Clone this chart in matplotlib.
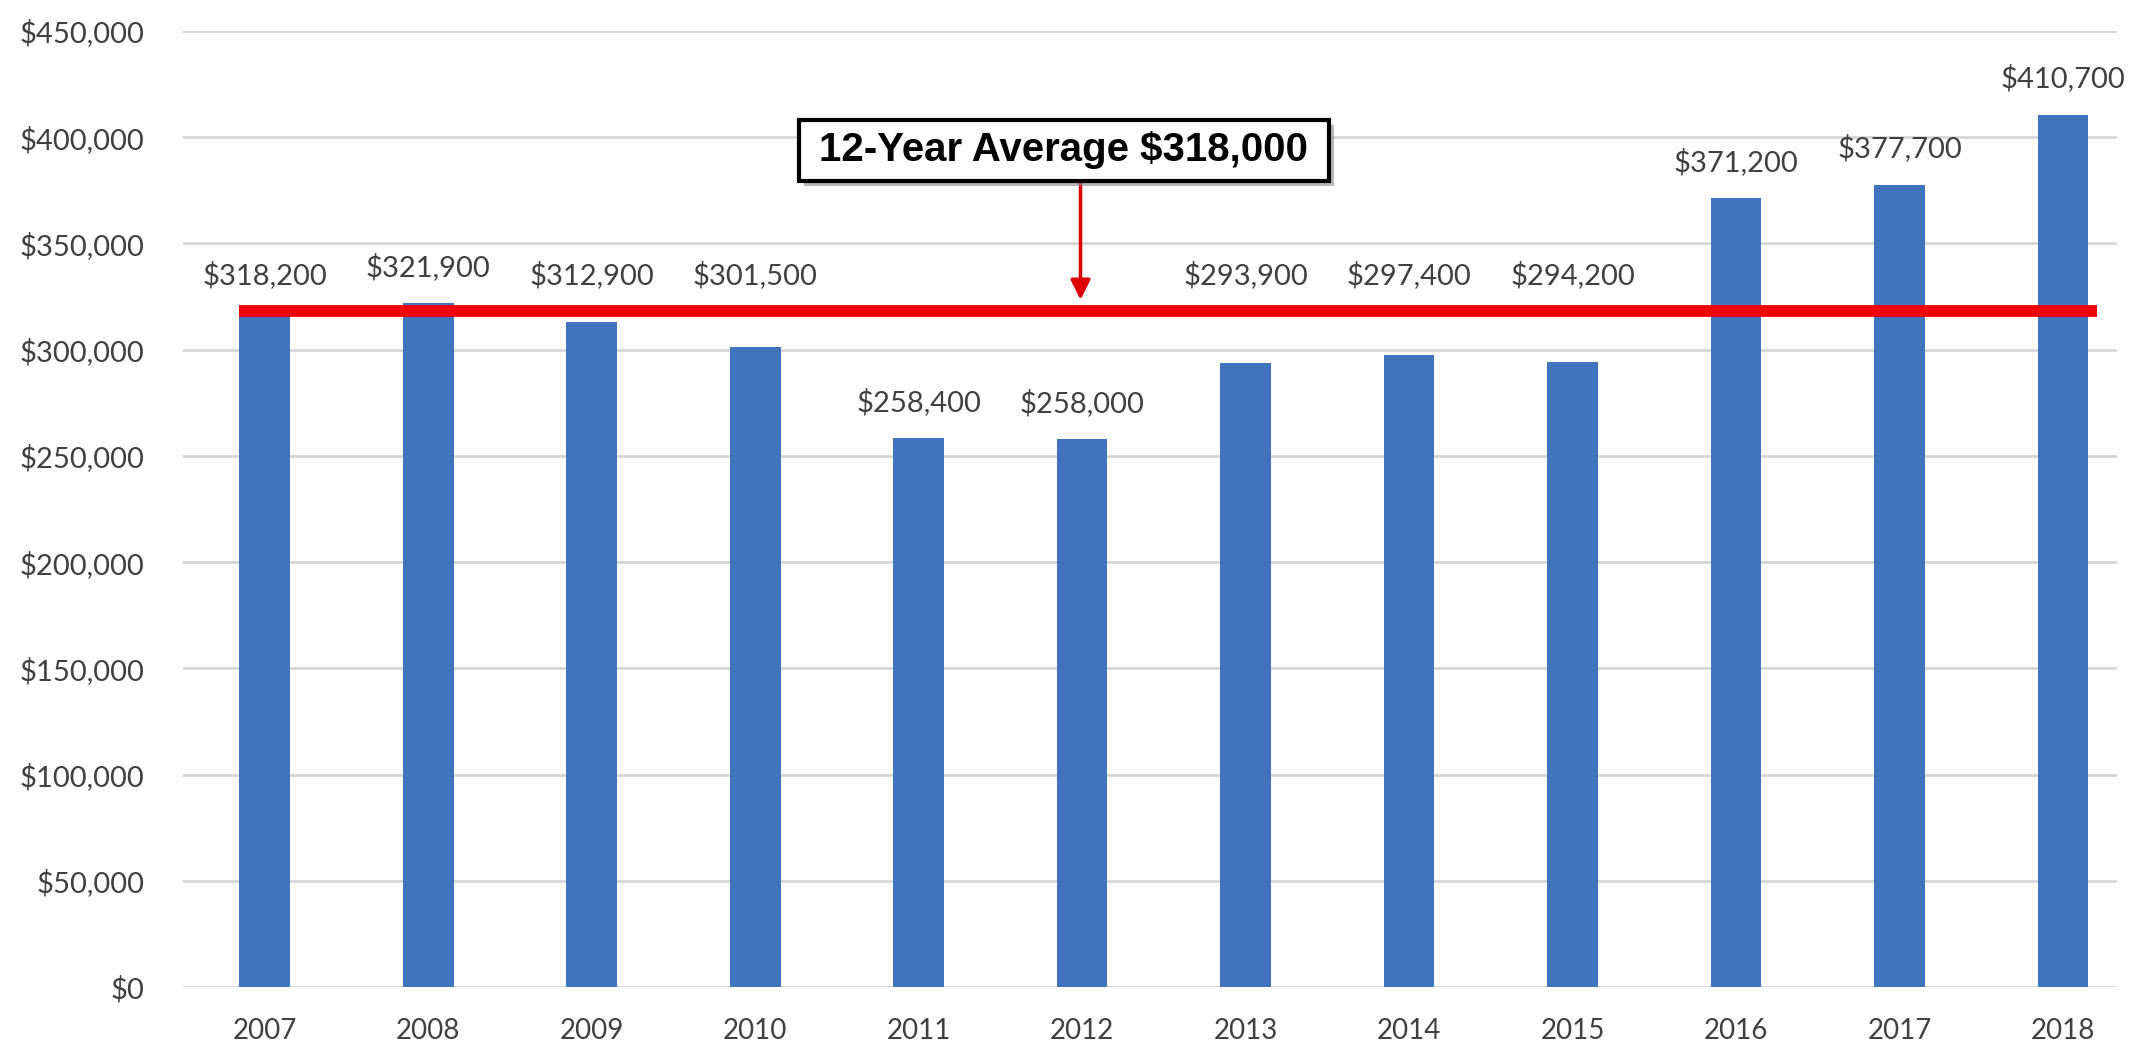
import matplotlib
matplotlib.use('Agg')
import matplotlib.pyplot as plt
from matplotlib import patheffects
from matplotlib.patches import Rectangle
from matplotlib.ticker import FuncFormatter

# median sale price by year
years = ['2007', '2008', '2009', '2010', '2011', '2012',
         '2013', '2014', '2015', '2016', '2017', '2018']
prices = [318200, 321900, 312900, 301500, 258400, 258000,
          293900, 297400, 294200, 371200, 377700, 410700]
average = 318000
avg_label = '12-Year Average $318,000'
y_ticks = [0, 50000, 100000, 150000, 200000, 250000, 300000, 350000, 400000, 450000]

plt.rcParams['font.family'] = ['Lato', 'DejaVu Sans']

fig = plt.figure(figsize=(21.3, 10.42), dpi=100)
ax = fig.add_axes([0.0859, 0.0528, 0.9080, 0.9174])

x = list(range(len(years)))
ax.bar(x, prices, width=0.31, color='#4273bd', zorder=2)

# value labels above the bars; ones that would sit on the average line get lifted over it
for xi, p in zip(x, prices):
    ly = p + 17000
    if abs(ly - average) < 14000:
        ly = average + 17000
    ax.text(xi, ly, '${:,}'.format(p),
            ha='center', va='center', fontsize=21, color='#404040', zorder=5)

# average line
ax.plot([-0.16, 11.21], [average, average], color='#f00000', lw=8.5,
        solid_capstyle='butt', zorder=3)

# callout box with drop shadow
box = Rectangle((3.266, 379500), 3.242, 28700, fc='white', ec='black', lw=3, zorder=6)
box.set_path_effects([
    patheffects.SimplePatchShadow(offset=(4, -4), shadow_rgbFace='#888888', alpha=0.6),
    patheffects.Normal()])
ax.add_patch(box)
ax.text(4.887, 393800, avg_label, ha='center', va='center', fontsize=29,
        fontweight='bold', family=['Liberation Sans', 'DejaVu Sans'],
        color='black', zorder=7)
ax.annotate('', xy=(4.99, average + 5500), xytext=(4.99, 379500),
            arrowprops=dict(arrowstyle='-|>', color='#dd0000', lw=2.5,
                            mutation_scale=30, shrinkA=0, shrinkB=0),
            zorder=4)

ax.set_xlim(-0.5, 11.33)
ax.set_ylim(0, 450000)
ax.set_yticks(y_ticks)
ax.yaxis.set_major_formatter(FuncFormatter(lambda v, pos: '${:,.0f}'.format(v)))
ax.set_xticks(x)
ax.set_xticklabels(years)
ax.tick_params(length=0, labelsize=21, labelcolor='#404040')
ax.tick_params(axis='y', pad=28)
ax.tick_params(axis='x', labelsize=20, pad=22)
ax.grid(axis='y', color='#d6d6d6', lw=2, zorder=0)
for s in ax.spines.values():
    s.set_visible(False)

fig.savefig('out.png', dpi=100)
